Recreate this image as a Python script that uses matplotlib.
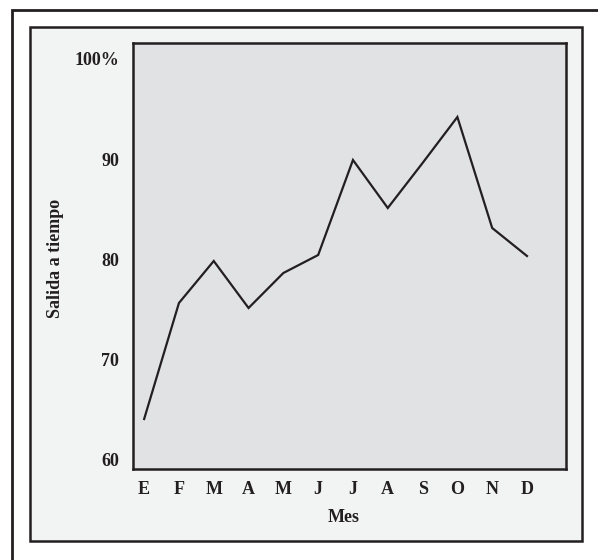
import matplotlib
matplotlib.use("Agg")
import matplotlib.pyplot as plt
from matplotlib.patches import Rectangle

# data
months = ["E", "F", "M", "A", "M", "J", "J", "A", "S", "O", "N", "D"]
on_time = [64.0, 75.6, 79.8, 75.1, 78.6, 80.4, 89.9, 85.1, 89.6, 94.2, 83.1, 80.3]
y_ticks = [60, 70, 80, 90, 100]
y_tick_labels = ["60", "70", "80", "90", "100%"]

plt.rcParams["font.family"] = ["Liberation Serif", "DejaVu Serif"]
plt.rcParams["font.weight"] = "bold"

INK = "#231f20"
FS = 13

fig = plt.figure(figsize=(5.98, 5.60), dpi=100)
fig.patch.set_facecolor("white")

# outer frame (only left/top are visible in the reference)
fig.patches.append(Rectangle((12 / 598, -0.2), 1.2, 1.2 - 10 / 560,
                             transform=fig.transFigure, fill=False,
                             edgecolor=INK, linewidth=2.0, zorder=-10))
# inner panel
fig.patches.append(Rectangle((30 / 598, 19 / 560), 552 / 598, 514 / 560,
                             transform=fig.transFigure, facecolor="#f2f3f3",
                             edgecolor=INK, linewidth=1.8, zorder=-9))

ax = fig.add_axes([133 / 598, 91 / 560, 433 / 598, 426 / 560])
ax.set_facecolor("#e1e2e4")

x = list(range(len(months)))
ax.plot(x, on_time, color=INK, linewidth=1.6, solid_joinstyle="miter")

ax.set_xlim(-0.32, 11 + 39 / 34.8)
ax.set_ylim(59, 101.6)

ax.set_xticks(x)
ax.set_xticklabels(months, fontsize=FS, fontweight="bold", color=INK)
ax.set_yticks(y_ticks)
ax.set_yticklabels(y_tick_labels, fontsize=FS, fontweight="bold", color=INK)
ax.tick_params(axis="both", length=0)
ax.tick_params(axis="x", pad=9)
ax.tick_params(axis="y", pad=10)

for side in ("top", "right", "left", "bottom"):
    ax.spines[side].set_color(INK)
    ax.spines[side].set_linewidth(1.8)

ax.text(0.487, -0.113, "Mes", transform=ax.transAxes, ha="center", va="center",
        fontsize=FS, fontweight="bold", color=INK)
ax.text(-0.18, 0.495, "Salida a tiempo", transform=ax.transAxes, rotation=90,
        ha="center", va="center", fontsize=FS, fontweight="bold", color=INK)

fig.savefig("out.png", dpi=100)
